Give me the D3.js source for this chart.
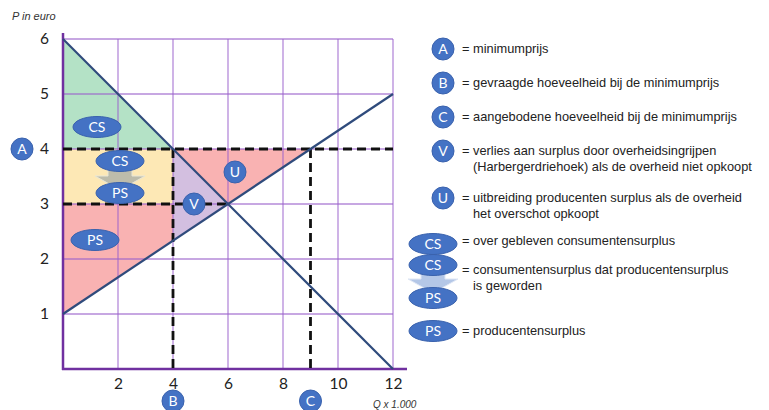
<!DOCTYPE html>
<html>
<head>
<meta charset="utf-8">
<script src="https://cdn.jsdelivr.net/npm/d3@7"></script>
<style>
  body { margin: 0; background: #fff; }
  svg { display: block; }
  .tick text { font-family: Lato, "Open Sans", sans-serif; font-size: 15.5px; fill: #222; }
  .legend { font-family: "Liberation Sans", Arial, sans-serif; font-size: 12.8px; fill: #222; }
  .badge text { font-family: Lato, "Open Sans", sans-serif; fill: #fff; }
</style>
</head>
<body>
<svg id="chart" width="769" height="410"></svg>
<script>
// curves and key points (Q x 1.000, P in euro)
const demand = [[0, 6], [12, 0]];
const supply = [[0, 1], [12, 5]];
const minPrice = 4;
const eqPoint = [6, 3];
const qDemanded = 4;
const qSupplied = 9;
const supplyAtQd = 1 + 4 / 3;

const xTicks = [2, 4, 6, 8, 10, 12];
const yTicks = [1, 2, 3, 4, 5, 6];

// shaded areas
const csArea = [[0, 6], [4, 4], [0, 4]];
const transferArea = [[0, 4], [4, 4], [4, 3], [0, 3]];
const psArea = [[0, 3], [4, 3], [4, supplyAtQd], [0, 1]];
const vArea = [[4, 4], [6, 3], [4, supplyAtQd]];
const uArea = [[4, 4], [9, 4], [6, 3]];

const legendItems = [
    { key: "A", lines: ["= minimumprijs"] },
    { key: "B", lines: ["= gevraagde hoeveelheid bij de minimumprijs"] },
    { key: "C", lines: ["= aangebodene hoeveelheid bij de minimumprijs"] },
    { key: "V", lines: ["= verlies aan surplus door overheidsingrijpen", "(Harbergerdriehoek) als de overheid niet opkoopt"] },
    { key: "U", lines: ["= uitbreiding producenten surplus als de overheid", "het overschot opkoopt"] }
];

const svg = d3.select("#chart");
const x = d3.scaleLinear().domain([0, 12]).range([63, 393]);
const y = d3.scaleLinear().domain([0, 6]).range([369, 39]);

const poly = d3.line().x(d => x(d[0])).y(d => y(d[1]));
const closed = pts => poly(pts) + "Z";

svg.append("path").attr("d", closed(csArea)).attr("fill", "#b4e2c6");
svg.append("path").attr("d", closed(transferArea)).attr("fill", "#fde8b5");
svg.append("path").attr("d", closed(psArea)).attr("fill", "#f9b2b2");
svg.append("path").attr("d", closed(uArea)).attr("fill", "#f9b2b2");
svg.append("path").attr("d", closed(vArea)).attr("fill", "#d3bfe0");

// grid
let grid = svg.append("g").attr("stroke", "#9b63cc").attr("stroke-opacity", 0.75).attr("stroke-width", 1.3);
xTicks.forEach(t => grid.append("line").attr("x1", x(t)).attr("x2", x(t)).attr("y1", y(6)).attr("y2", y(0)));
yTicks.forEach(t => grid.append("line").attr("x1", x(0)).attr("x2", x(12)).attr("y1", y(t)).attr("y2", y(t)));

// axes
svg.append("line").attr("x1", x(0)).attr("x2", x(0)).attr("y1", y(6) - 6).attr("y2", y(0) + 1)
    .attr("stroke", "#7030a0").attr("stroke-width", 2.5);
svg.append("line").attr("x1", x(0) - 1).attr("x2", x(12) + 14).attr("y1", y(0)).attr("y2", y(0))
    .attr("stroke", "#7030a0").attr("stroke-width", 2.5);

let xAxis = svg.append("g").attr("transform", `translate(0,${y(0)})`)
    .call(d3.axisBottom(x).tickValues(xTicks).tickSize(0).tickPadding(9).tickFormat(d3.format("d")));
xAxis.select(".domain").remove();
let yAxis = svg.append("g").attr("transform", `translate(${x(0)},0)`)
    .call(d3.axisLeft(y).tickValues(yTicks).tickSize(0).tickPadding(14).tickFormat(d3.format("d")));
yAxis.select(".domain").remove();

// dashed guides
const dash = { stroke: "#111", "stroke-width": 2.8, "stroke-dasharray": "9,5" };
function dashed(x1, y1, x2, y2) {
    let l = svg.append("line").attr("x1", x(x1)).attr("y1", y(y1)).attr("x2", x(x2)).attr("y2", y(y2));
    Object.entries(dash).forEach(([k, v]) => l.attr(k, v));
}
dashed(0, minPrice, 12, minPrice);
dashed(0, eqPoint[1], eqPoint[0], eqPoint[1]);
dashed(qDemanded, minPrice, qDemanded, 0);
dashed(qSupplied, minPrice, qSupplied, 0);

// demand and supply
svg.append("path").attr("d", poly(demand)).attr("stroke", "#2f4b7c").attr("stroke-width", 2.2).attr("fill", "none");
svg.append("path").attr("d", poly(supply)).attr("stroke", "#2f4b7c").attr("stroke-width", 2.2).attr("fill", "none");

// badges
function circleBadge(cx, cy, label) {
    let g = svg.append("g").attr("class", "badge");
    g.append("circle").attr("cx", cx).attr("cy", cy).attr("r", 11).attr("fill", "#4472c4").attr("stroke", "#3a62ad");
    g.append("text").attr("x", cx).attr("y", cy + 5).attr("text-anchor", "middle").attr("font-size", 14).text(label);
}
function ellipseBadge(cx, cy, label) {
    let g = svg.append("g").attr("class", "badge");
    g.append("ellipse").attr("cx", cx).attr("cy", cy).attr("rx", 24).attr("ry", 10.5).attr("fill", "#4472c4").attr("stroke", "#3a62ad");
    g.append("text").attr("x", cx).attr("y", cy + 5).attr("text-anchor", "middle").attr("font-size", 14).text(label);
}
function downArrow(cx, top, fill, stroke) {
    let p = `M${cx - 12},${top} L${cx + 12},${top} L${cx + 12},${top + 8} L${cx + 25},${top + 8} L${cx},${top + 22} L${cx - 25},${top + 8} L${cx - 12},${top + 8}Z`;
    svg.append("path").attr("d", p).attr("fill", fill).attr("stroke", stroke).attr("stroke-width", 1);
}

ellipseBadge(97, 127, "CS");
downArrow(120, 168, "#bdbcab", "#e8e6d6");
ellipseBadge(120, 161, "CS");
ellipseBadge(120, 193, "PS");
ellipseBadge(95, 240, "PS");
circleBadge(194, 204, "V");
circleBadge(235, 172, "U");
circleBadge(22, y(minPrice), "A");
circleBadge(x(qDemanded), 401, "B");
circleBadge(x(qSupplied), 401, "C");

// axis titles
svg.append("text").attr("x", 12).attr("y", 20).attr("font-family", "Liberation Sans, Arial, sans-serif")
    .attr("font-size", 11).attr("font-style", "italic").attr("fill", "#333").text("P in euro");
svg.append("text").attr("x", 373).attr("y", 408).attr("font-family", "Liberation Sans, Arial, sans-serif")
    .attr("font-size", 10).attr("font-style", "italic").attr("fill", "#333").text("Q x 1.000");

// legend
const legendY = [49, 83, 117, 151, 198];
legendItems.forEach((d, i) => {
    circleBadge(443, legendY[i], d.key);
    d.lines.forEach((s, j) => {
        svg.append("text").attr("class", "legend")
            .attr("x", j === 0 ? 462 : 473).attr("y", legendY[i] + 4 + j * 16).text(s);
    });
});

ellipseBadge(433, 244, "CS");
svg.append("text").attr("class", "legend").attr("x", 462).attr("y", 245).text("= over gebleven consumentensurplus");
downArrow(433, 271, "#b4c7e7", "#dfe7f5");
ellipseBadge(433, 265, "CS");
ellipseBadge(433, 298, "PS");
svg.append("text").attr("class", "legend").attr("x", 462).attr("y", 274).text("= consumentensurplus dat producentensurplus");
svg.append("text").attr("class", "legend").attr("x", 473).attr("y", 290).text("is geworden");
ellipseBadge(433, 331, "PS");
svg.append("text").attr("class", "legend").attr("x", 462).attr("y", 335).text("= producentensurplus");
</script>
</body>
</html>
